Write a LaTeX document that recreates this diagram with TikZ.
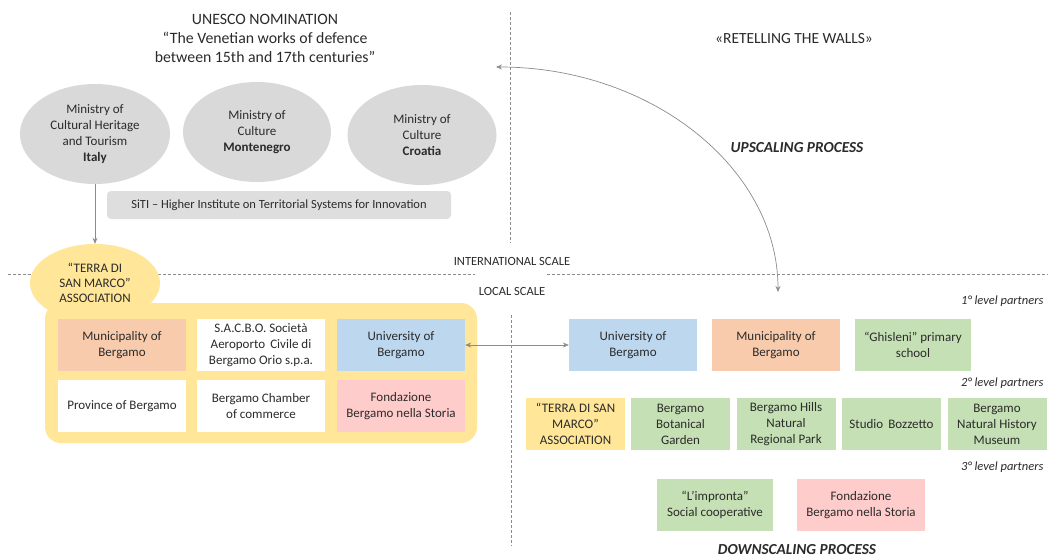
\documentclass[tikz,border=0pt]{standalone}
\usepackage{fontspec}
\setmainfont{Carlito}
\usetikzlibrary{shapes.geometric,arrows.meta}
\definecolor{txt}{HTML}{2B2B2B}
\definecolor{greyfill}{HTML}{D9D9D9}
\definecolor{siti}{HTML}{DEDEDE}
\definecolor{orangefill}{HTML}{F8CBAD}
\definecolor{bluefill}{HTML}{BDD7EE}
\definecolor{greenfill}{HTML}{C5E0B4}
\definecolor{pinkfill}{HTML}{FFCCCC}
\definecolor{yellowfill}{HTML}{FFE699}
\definecolor{linegrey}{HTML}{8C8C8C}
\tikzset{
  every node/.style={text=txt},
  ministry/.style={ellipse, fill=greyfill, minimum width=150pt, minimum height=100pt, inner sep=0pt, align=center, font=\fontsize{13}{15.7}\selectfont},
  pbox/.style={rectangle, minimum height=52pt, inner sep=1pt, align=center, font=\fontsize{13}{16}\selectfont},
  divider/.style={linegrey, dashed, dash pattern=on 3pt off 2pt, line width=0.5pt},
  conn/.style={linegrey, line width=0.7pt, -{Stealth[length=6pt,width=5pt]}},
  dconn/.style={linegrey, line width=0.7pt, {Stealth[length=6pt,width=5pt]}-{Stealth[length=6pt,width=5pt]}},
  lvl/.style={anchor=east, font=\fontsize{12.5}{14}\selectfont\itshape},
  scalelabel/.style={font=\fontsize{12.5}{14}\selectfont},
  process/.style={font=\fontsize{15.3}{17}\selectfont\bfseries\itshape},
}
\begin{document}
\begin{tikzpicture}[x=1pt,y=-1pt]
\useasboundingbox (0,0) rectangle (1048,558);
\fill[white] (0,0) rectangle (1048,558);

% dividing lines between scales and between the two sides
\coordinate (vtop) at (510,12);
\coordinate (vmid) at (510,243);
\coordinate (vlow) at (511,315);
\coordinate (vbot) at (511,546);
\draw[divider] (vtop) -- (vmid);
\draw[divider] (vlow) -- (vbot);
\coordinate (hl1) at (8,274);
\coordinate (hl2) at (475,274);
\coordinate (hr1) at (547,274);
\coordinate (hr2) at (1048,274);
\draw[divider] (hl1) -- (hl2);
\draw[divider] (hr1) -- (hr2);
\node[scalelabel] (intl) at (512,261) {INTERNATIONAL SCALE};
\node[scalelabel] (local) at (512,291) {LOCAL SCALE};

% headings
\node[align=center, font=\fontsize{15.8}{19}\selectfont] (unesco) at (265,38)
  {UNESCO NOMINATION\\``The Venetian works of defence\\between 15th and 17th centuries''};
\node[font=\fontsize{15.5}{16}\selectfont] (retell) at (794,39) {«RETELLING THE WALLS»};
\node[process] (up) at (797,148) {UPSCALING PROCESS};
\node[process] (down) at (797,550) {DOWNSCALING PROCESS};

% international partners
\node[ministry] (italy) at (95,134) {Ministry of\\Cultural Heritage\\and Tourism\\\textbf{Italy}};
\node[ministry, minimum width=148pt] (mne) at (257,132) {Ministry of\\Culture\\\textbf{Montenegro}};
\node[ministry, minimum width=149pt] (cro) at (422,135) {Ministry of\\Culture\\\textbf{Croatia}};
\node[rectangle, rounded corners=4pt, fill=siti, minimum width=344pt, minimum height=28pt,
      font=\fontsize{12.5}{14}\selectfont] (siti) at (279,205)
  {SiTI -- Higher Institute on Territorial Systems for Innovation};

% local association
\node[rectangle, rounded corners=16pt, fill=yellowfill, minimum width=432pt, minimum height=140pt] (assocbox) at (261,373) {};
\node[ellipse, fill=yellowfill, minimum width=130pt, minimum height=78pt, inner sep=0pt, align=center,
      font=\fontsize{13}{15}\selectfont] (terra) at (95,283) {``TERRA DI\\SAN MARCO''\\ASSOCIATION};
\draw[conn] (italy.south) -- (terra.north);

\node[pbox, fill=orangefill, minimum width=128pt] (muniL) at (122,345) {Municipality of\\Bergamo};
\node[pbox, fill=white, minimum width=128pt] (sacbo) at (261,345) {S.A.C.B.O. Società\\Aeroporto\, Civile di\\Bergamo Orio s.p.a.};
\node[pbox, fill=bluefill, minimum width=128pt] (uniL) at (401,345) {University of\\Bergamo};
\node[pbox, fill=white, minimum width=128pt] (prov) at (122,406) {Province of Bergamo};
\node[pbox, fill=white, minimum width=128pt] (chamber) at (261,406) {Bergamo Chamber\\of commerce};
\node[pbox, fill=pinkfill, minimum width=128pt] (fondL) at (401,406) {Fondazione\\Bergamo nella Storia};

% project partners
\node[pbox, fill=bluefill, minimum width=128pt] (uniR) at (633,345) {University of\\Bergamo};
\node[pbox, fill=orangefill, minimum width=128pt] (muniR) at (776,345) {Municipality of\\Bergamo};
\node[pbox, fill=greenfill, minimum width=116pt] (ghis) at (913,345) {``Ghisleni'' primary\\school};

\node[pbox, fill=yellowfill, minimum width=99pt] (terraR) at (575.5,424) {``TERRA DI SAN\\MARCO''\\ASSOCIATION};
\node[pbox, fill=greenfill, minimum width=99pt] (botan) at (680.5,424) {Bergamo\\Botanical\\Garden};
\node[pbox, fill=greenfill, minimum width=99pt] (hills) at (786,424) {Bergamo Hills\\Natural\\Regional Park};
\node[pbox, fill=greenfill, minimum width=99pt] (studio) at (891.5,424) {Studio\, Bozzetto};
\node[pbox, fill=greenfill, minimum width=99pt] (museum) at (997,424) {Bergamo\\Natural History\\Museum};

\node[pbox, fill=greenfill, minimum width=116pt] (impronta) at (715,505) {``L’impronta''\\Social cooperative};
\node[pbox, fill=pinkfill, minimum width=128pt] (fondR) at (861,505) {Fondazione\\Bergamo nella Storia};

\node[lvl] (l1) at (1047,301) {1° level partners};
\node[lvl] (l2) at (1047,383) {2° level partners};
\node[lvl] (l3) at (1047,467) {3° level partners};

% connectors
\draw[dconn] (uniL.east) -- (uniR.west);
\coordinate (upstart) at (496,67);
\coordinate (upend) at (778,292);
\draw[dconn] (upstart) .. controls (651,67) and (778,168) .. (upend);
\end{tikzpicture}
\end{document}
